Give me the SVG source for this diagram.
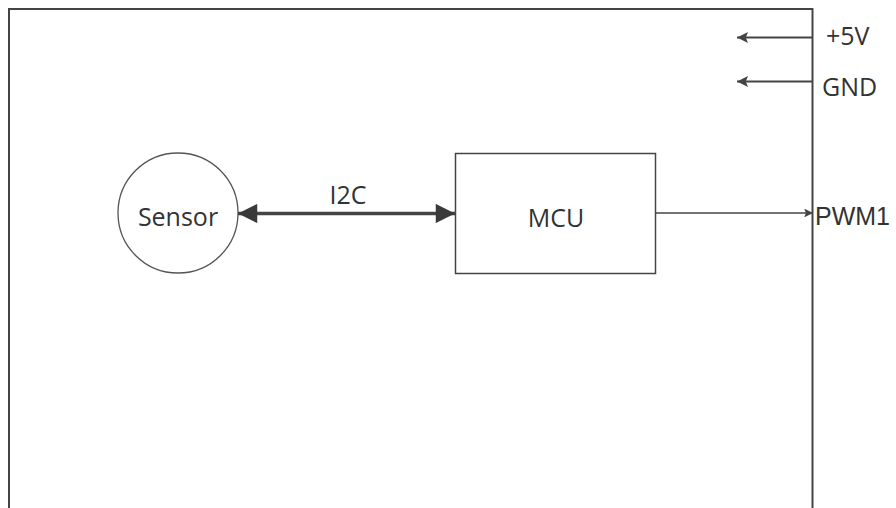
<svg xmlns="http://www.w3.org/2000/svg" width="896" height="508" viewBox="0 0 896 508">
<style>
.t{font-family:"Open Sans","Noto Sans",sans-serif;font-size:25px;fill:#333}
.ta{font-family:"Liberation Sans",Arial,sans-serif;font-size:25px;fill:#333}
.ln{stroke:#444;fill:none}
</style>
<defs>
<marker id="big" viewBox="0 0 10 10" refX="10" refY="5" markerWidth="5.8" markerHeight="5.5" markerUnits="strokeWidth" orient="auto-start-reverse">
<path d="M0,0 L10,5 L0,10 z" fill="#3a3a3a"/>
</marker>
<marker id="sm" viewBox="0 0 10 10" refX="10" refY="5" markerWidth="6.5" markerHeight="5.5" markerUnits="strokeWidth" orient="auto">
<path d="M0,0 L10,5 L0,10 L2,5 z" fill="#444"/>
</marker>
</defs>
<rect width="896" height="508" fill="#fff"/>
<g id="board">
<path class="ln" stroke-width="2" d="M9,510 V9 H812.5 V510"/>
</g>
<g id="sensor">
<circle cx="178" cy="213" r="60" fill="#fff" stroke="#555" stroke-width="1.3"/>
<text class="t" x="178" y="226" text-anchor="middle">Sensor</text>
</g>
<g id="mcu">
<rect x="455.5" y="153.5" width="200" height="120" fill="#fff" stroke="#444" stroke-width="1.5"/>
<text class="t" x="556" y="227" text-anchor="middle" font-size="26">MCU</text>
</g>
<g id="pwr">
<text class="t" x="826" y="45">+5V</text>
<text class="t" x="822" y="96">GND</text>
</g>
<g id="pwm">
<text class="ta" x="815" y="225">PWM1</text>
</g>
<g id="connectors">
<line class="ln" stroke-width="3.5" x1="238" y1="213.5" x2="455" y2="213.5" marker-start="url(#big)" marker-end="url(#big)"/>
<text class="t" x="348" y="204" text-anchor="middle">I2C</text>
<line class="ln" stroke-width="1.6" x1="656" y1="213" x2="813" y2="213" marker-end="url(#sm)"/>
<line class="ln" stroke-width="2" x1="812" y1="37.5" x2="737" y2="37.5" marker-end="url(#sm)"/>
<line class="ln" stroke-width="2" x1="812" y1="81.5" x2="737" y2="81.5" marker-end="url(#sm)"/>
</g>
</svg>
